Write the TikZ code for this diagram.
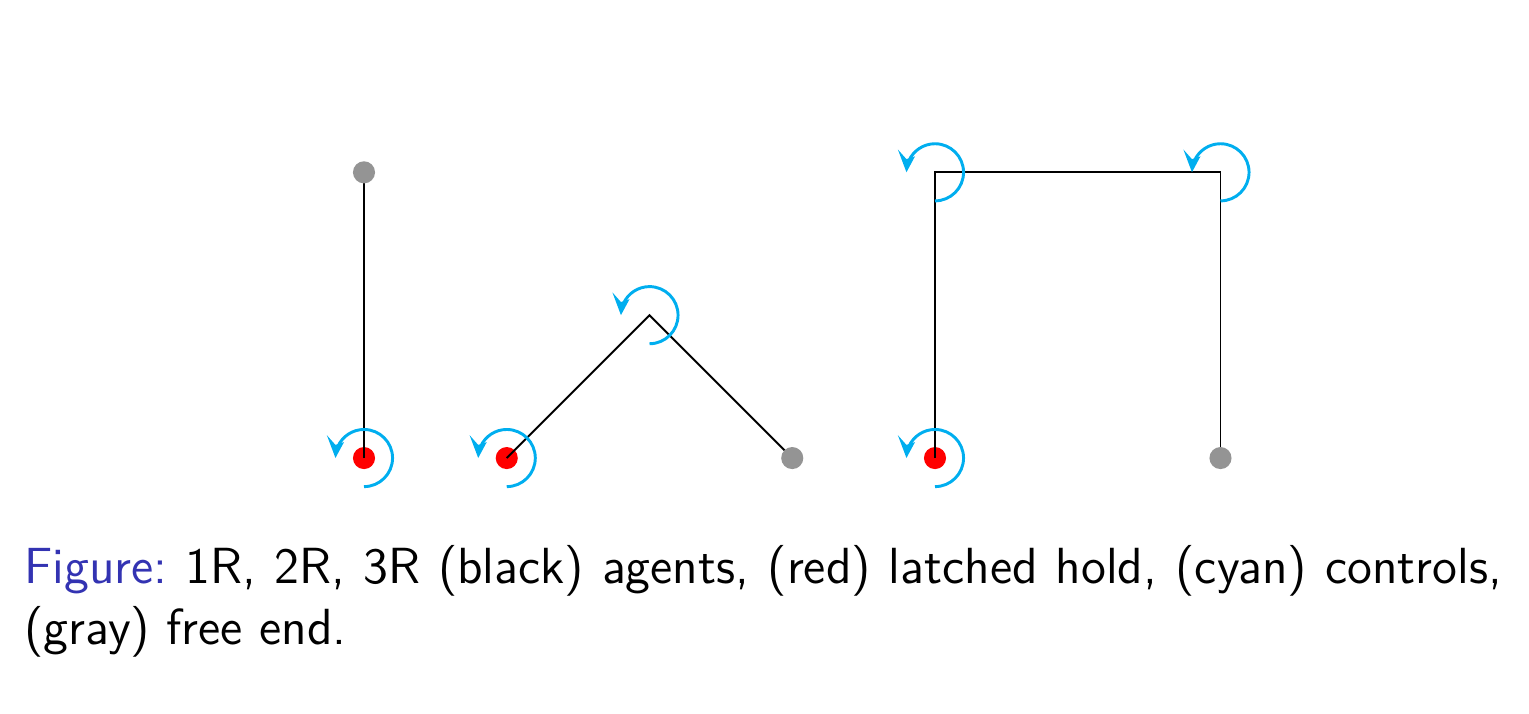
\documentclass[tikz,border=0pt]{standalone}
\usepackage{xcolor}
\usepackage{tikz}
\usetikzlibrary{arrows.meta,positioning,bending}
\definecolor{ctrlcyan}{RGB}{0,174,239}
\definecolor{figblue}{RGB}{51,51,178}
\begin{document}
\begin{tikzpicture}[
    x=2.39cm, y=2.392cm,
    link/.style={draw, black, line width=0.45pt},
    holddot/.style={circle, fill=red, inner sep=0pt, minimum size=0.185cm},
    freedot/.style={circle, fill=black!42, inner sep=0pt, minimum size=0.185cm},
    joint/.style={inner sep=0pt, minimum size=0pt},
    control/.style={draw=ctrlcyan, line width=0.7pt, -{Stealth[length=1.6mm,width=1.4mm,inset=0.5mm,slant=0.4,flex=0]}}
]
    \useasboundingbox (-1.275,-0.8925) rectangle (4.0806,1.603);

    % 1R
    \node[holddot] (hold1) at (0,0) {};
    \coordinate (top1) at (0,1);
    \draw[link] (hold1.center) -- (top1);
    \node[freedot] (free1) at (top1) {};
    \draw[control] (hold1.center) ++(-90:0.1) arc (-90:180:0.1);

    % 2R
    \node[holddot] (hold2) at (0.5,0) {};
    \node[joint] (elbow2) at (1,0.5) {};
    \coordinate (end2) at (1.5,0);
    \draw[link] (hold2.center) -- (elbow2.center) -- (end2);
    \node[freedot] (free2) at (end2) {};
    \draw[control] (hold2.center) ++(-90:0.1) arc (-90:180:0.1);
    \draw[control] (elbow2.center) ++(-90:0.1) arc (-90:180:0.1);

    % 3R
    \node[holddot] (hold3) at (2,0) {};
    \node[joint] (elbow3a) at (2,1) {};
    \node[joint] (elbow3b) at (3,1) {};
    \coordinate (end3) at (3,0);
    \draw[link] (hold3.center) -- (elbow3a.center) -- (elbow3b.center) -- (end3);
    \node[freedot] (free3) at (end3) {};
    \draw[control] (hold3.center) ++(-90:0.1) arc (-90:180:0.1);
    \draw[control] (elbow3a.center) ++(-90:0.1) arc (-90:180:0.1);
    \draw[control] (elbow3b.center) ++(-90:0.1) arc (-90:180:0.1);

    % Caption
    \node[anchor=north west, inner sep=0pt, text width=12.37cm, align=justify, font=\fontsize{12.1}{14.5}\selectfont\sffamily] (caption) at (-1.1926,-0.303)
        {\textcolor{figblue}{Figure:}\ 1R, 2R, 3R (black) agents, (red) latched hold, (cyan) controls, (gray) free end.};
\end{tikzpicture}
\end{document}
